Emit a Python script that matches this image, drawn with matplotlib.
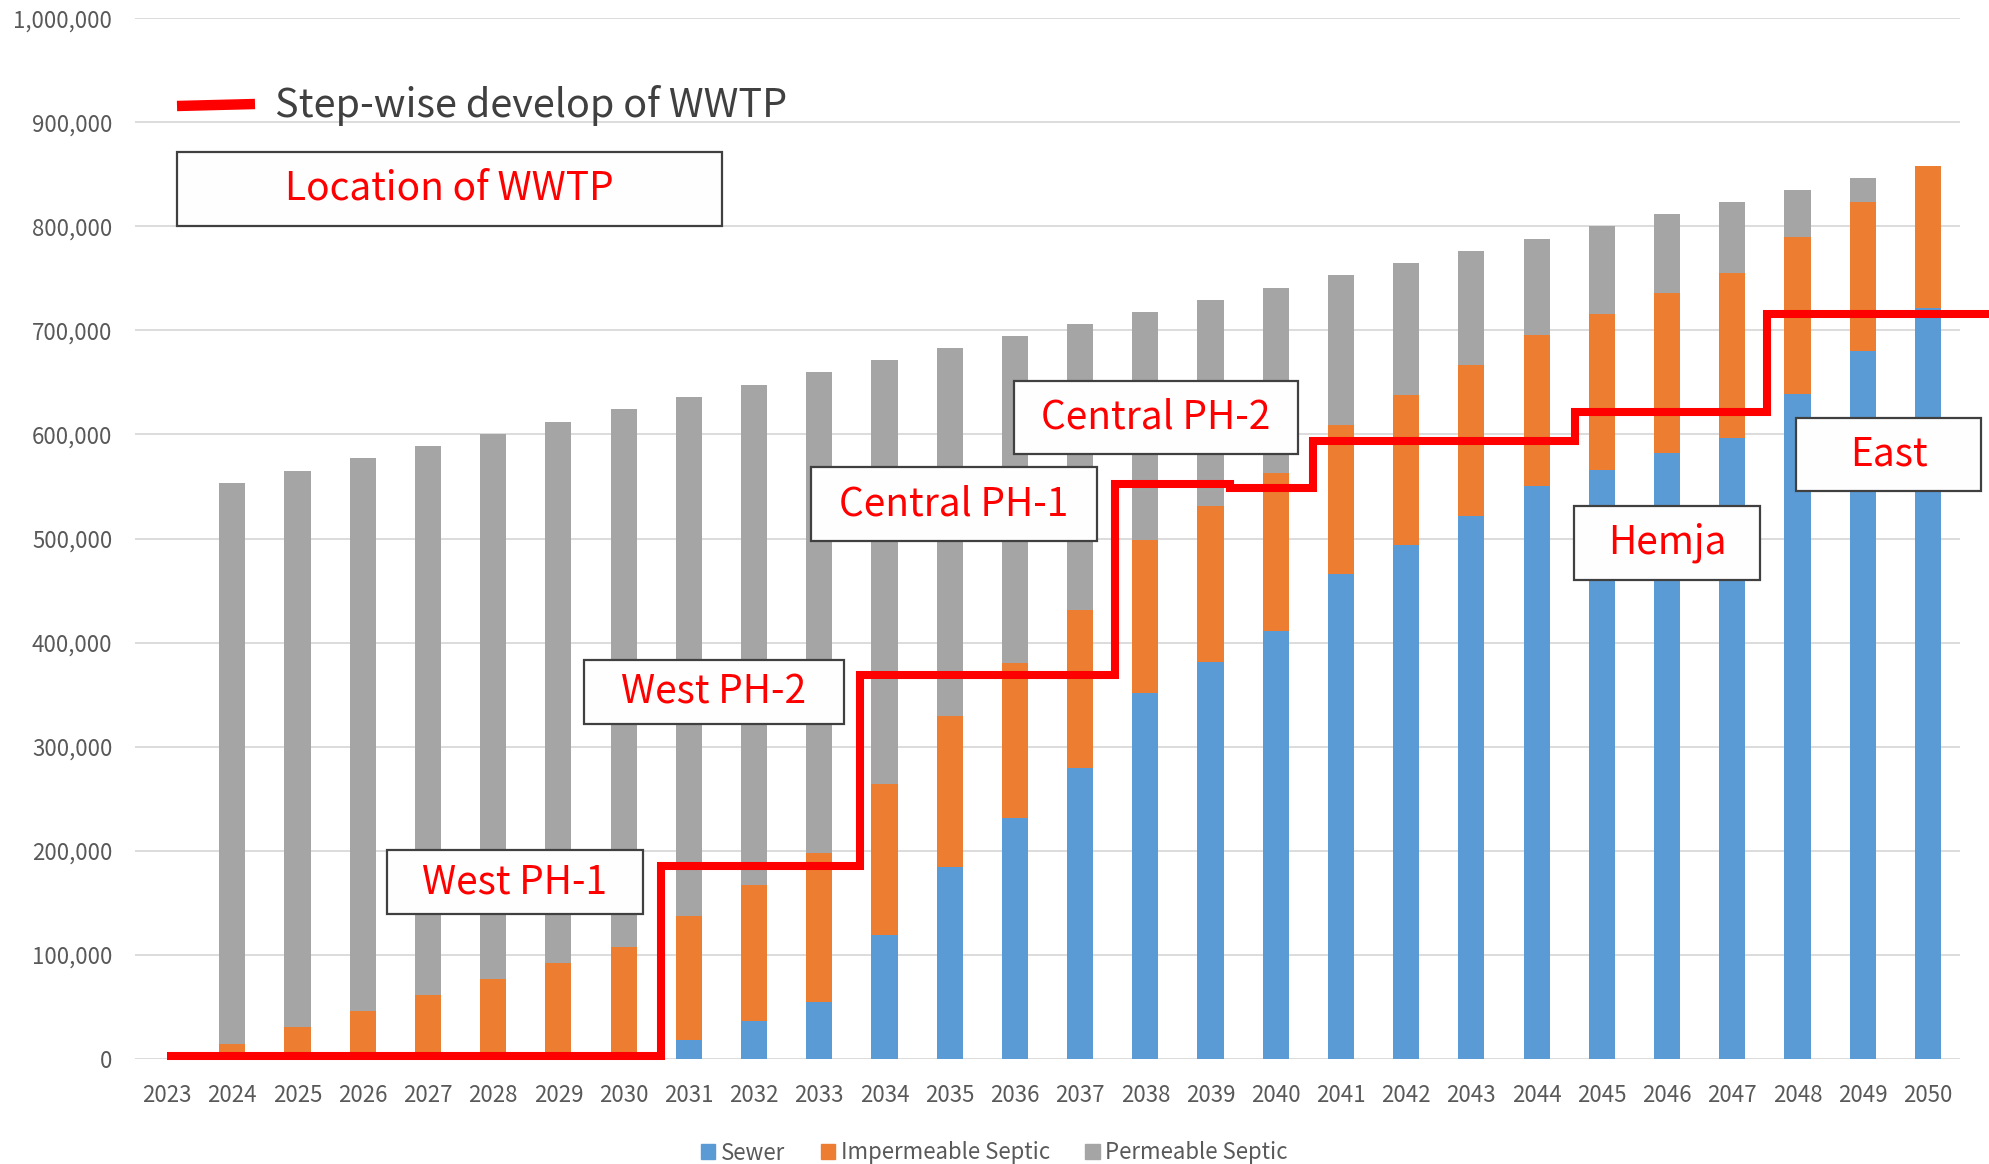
import matplotlib
matplotlib.use("Agg")
import matplotlib.pyplot as plt
import numpy as np
from matplotlib.patches import Rectangle, Patch
from matplotlib.lines import Line2D
from matplotlib.ticker import FuncFormatter

plt.rcParams['font.family'] = ['Noto Sans CJK JP', 'DejaVu Sans']

# ---- data (persons) ----
years = [str(y) for y in range(2023, 2051)]
sewer = [0, 0, 0, 0, 0, 0, 0, 0, 17700, 36000, 54200, 118600, 184000, 231000,
         279400, 351500, 380900, 410700, 466000, 494000, 522000, 550000,
         566000, 582000, 597000, 639000, 680000, 722000]
sewer_plus_imp = [0, 14400, 30200, 45800, 60900, 76300, 91700, 107000, 137400,
                  167000, 197700, 264000, 329400, 380000, 431600, 498900,
                  530900, 562500, 608800, 637900, 666500, 695200, 715400,
                  735700, 755500, 789700, 823900, 858100]
total = [0, 553000, 565000, 577000, 589000, 600500, 612300, 624200, 635700,
         647500, 659600, 671300, 682700, 694500, 706000, 718000, 729500,
         741000, 753000, 764700, 776500, 787900, 800000, 811800, 823200,
         834900, 846700, 858100]
impermeable = [a - b for a, b in zip(sewer_plus_imp, sewer)]
permeable = [a - b for a, b in zip(total, sewer_plus_imp)]

# WWTP capacity steps (x in category units, 0 = 2023)
step_start = [0, 7.57, 10.62, 14.53, 16.3, 17.57, 21.59, 24.53]
step_level = [2600, 185600, 369000, 552000, 549000, 594000, 622000, 715500]
step_end = 27.95

# labels of the plant locations and their boxes (image pixels: x0, y0, x1, y1)
labels = ["Location of WWTP", "West PH-1", "West PH-2", "Central PH-1",
          "Central PH-2", "Hemja", "East"]
label_boxes = [(177, 152, 722, 226), (387, 850, 643, 914), (584, 660, 844, 724),
               (811, 467, 1097, 541), (1014, 381, 1298, 454),
               (1574, 506, 1760, 580), (1796, 418, 1981, 491)]

W, H = 1989, 1164
fig = plt.figure(figsize=(W / 100, H / 100), dpi=100)
ax = fig.add_axes([134.5 / W, 1 - 1058.7 / H, (1960.5 - 134.5) / W, (1058.7 - 18.3) / H])

x = np.arange(len(years))
bw = 0.40
c_sewer, c_imp, c_perm = '#5B9BD5', '#ED7D31', '#A5A5A5'
ax.bar(x, sewer, bw, color=c_sewer, zorder=2)
ax.bar(x, impermeable, bw, bottom=sewer, color=c_imp, zorder=2)
ax.bar(x, permeable, bw, bottom=sewer_plus_imp, color=c_perm, zorder=2)

sx = step_start + [step_end]
sy = step_level + [step_level[-1]]
ax.step(sx, sy, where='post', color='#FF0000', lw=5.8, zorder=4,
        clip_on=False, solid_joinstyle='miter', solid_capstyle='butt')

ax.set_xlim(-0.5, len(years) - 0.5)
ax.set_ylim(0, 1000000)
ax.set_yticks(np.arange(0, 1000001, 100000))
ax.yaxis.set_major_formatter(FuncFormatter(lambda v, p: f"{int(v):,}"))
ax.set_xticks(x)
ax.set_xticklabels(years)
ax.grid(axis='y', color='#D9D9D9', lw=1.3, zorder=0)
ax.set_axisbelow(True)
for s in ax.spines.values():
    s.set_visible(False)
ax.tick_params(axis='both', length=0, labelsize=16, colors='#595959')
ax.tick_params(axis='y', pad=16)
ax.tick_params(axis='x', pad=18)

# boxed location labels
for txt, (x0, y0, x1, y1) in zip(labels, label_boxes):
    fig.patches.append(Rectangle((x0 / W, 1 - y1 / H), (x1 - x0) / W, (y1 - y0) / H,
                                 transform=fig.transFigure, facecolor='#FEFEFE',
                                 edgecolor='#404040', lw=1.6, zorder=5))
    fig.text((x0 + x1) / 2 / W, 1 - (y0 + y1) / 2 / H, txt, color='#FF0000',
             fontsize=28, ha='center', va='center', zorder=6)

# red line key
fig.add_artist(Line2D([177 / W, 255 / W], [1 - 106 / H, 1 - 104 / H],
                      transform=fig.transFigure, color='#FF0000', lw=7.5,
                      solid_capstyle='butt'))
fig.text(275 / W, 1 - 105 / H, "Step-wise develop of WWTP", color='#404040',
         fontsize=28.5, ha='left', va='center')

handles = [Patch(color=c_sewer, label='Sewer'),
           Patch(color=c_imp, label='Impermeable Septic'),
           Patch(color=c_perm, label='Permeable Septic')]
leg = fig.legend(handles=handles, loc='center', bbox_to_anchor=(0.5, 1 - 1153 / H),
                 ncol=3, frameon=False, fontsize=16, handlelength=0.65,
                 handleheight=0.65, handletextpad=0.25, columnspacing=1.6)
for t in leg.get_texts():
    t.set_color('#595959')

fig.savefig('out.png', dpi=100)
